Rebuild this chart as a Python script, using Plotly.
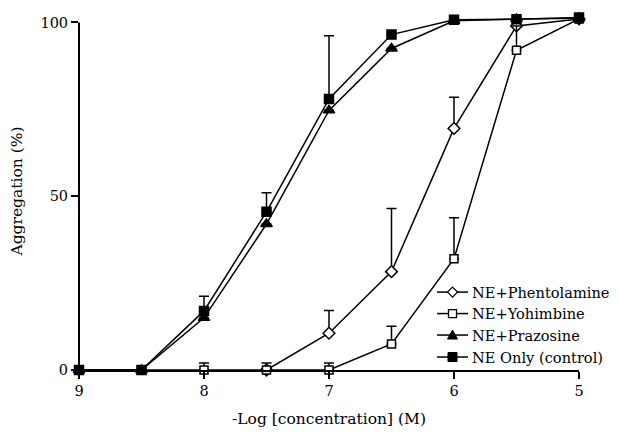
import plotly.graph_objects as go

# -Log [concentration] (M)
x_all = [9, 8.5, 8, 7.5, 7, 6.5, 6, 5.5, 5]
x_phen = [7.5, 7, 6.5, 6, 5.5, 5]

phen_y = [0, 10.6, 28.3, 69.5, 99, 101]
phen_err = [0, 6.5, 18.2, 9.0, 0, 0]

yoh_y = [0, 0, 0, 0, 0, 7.5, 32, 92, 101]
yoh_err = [0, 0, 2, 2, 2, 5.1, 11.8, 7, 0]

praz_y = [0, 0, 15, 42, 74.7, 92.5, 100.5, 101, 101.2]
praz_err = [0, 0, 0, 0, 0, 0, 0, 0, 0]

ctrl_y = [0, 0, 17, 45.5, 78, 96.5, 100.8, 100.9, 101.4]
ctrl_err = [0, 0, 4.2, 5.5, 18.2, 0, 0, 0, 0]

series_names = ["NE+Phentolamine", "NE+Yohimbine", "NE+Prazosine", "NE Only (control)"]

x_ticks = [9, 8, 7, 6, 5]
y_ticks = [0, 50, 100]

FONT = "DejaVu Serif"
TICK_SIZE = 14.5
TITLE_SIZE = 15.5
LEG_SIZE = 14.6

OFF = 8
W, H = 620 - OFF, 435 - OFF
PL, PR = 79 - OFF, 579 - OFF
PB = 370 - OFF
PX_PER_UNIT = 3.48
Y_MAX = 103
PT = PB - PX_PER_UNIT * Y_MAX

def px(xp):
    return (xp - OFF - PL) / (PR - PL)

def py(yp):
    return (PB - (yp - OFF)) / (PB - PT)

fig = go.Figure()

def add(name, xs, ys, errs, symbol, fill, size):
    fig.add_trace(go.Scatter(
        x=xs, y=ys, name=name, mode="lines+markers",
        line=dict(color="black", width=1.5),
        marker=dict(symbol=symbol, size=size, color=fill,
                    line=dict(color="black", width=1.5)),
        error_y=dict(type="data", array=errs, arrayminus=[0] * len(errs),
                     symmetric=False, color="black", thickness=1.5, width=5),
        cliponaxis=False, showlegend=False,
    ))

add(series_names[0], x_phen, phen_y, phen_err, "diamond", "white", 9)
add(series_names[1], x_all, yoh_y, yoh_err, "square", "white", 8)
add(series_names[2], x_all, praz_y, praz_err, "triangle-up", "black", 10)
add(series_names[3], x_all, ctrl_y, ctrl_err, "square", "black", 9)

shapes = []
shapes.append(dict(type="line", xref="paper", x0=0, x1=0, yref="y", y0=0, y1=100,
                   line=dict(color="black", width=2), layer="above"))

row_y = [292, 313.5, 335, 357]
line_x0, line_x1, sym_x, text_x = 437, 468, 452.5, 470
annotations = []
for i, name in enumerate(series_names):
    ry = row_y[i]
    shapes.append(dict(type="line", xref="paper", yref="paper",
                       x0=px(line_x0), x1=px(line_x1), y0=py(ry), y1=py(ry),
                       line=dict(color="black", width=1.5), layer="above"))
    if i == 0:
        d = 5
        path = "M {} {} L {} {} L {} {} L {} {} Z".format(
            px(sym_x - d), py(ry), px(sym_x), py(ry - d),
            px(sym_x + d), py(ry), px(sym_x), py(ry + d))
        shapes.append(dict(type="path", xref="paper", yref="paper", path=path,
                           fillcolor="white", line=dict(color="black", width=1.3),
                           layer="above"))
    elif i == 1:
        d = 4
        shapes.append(dict(type="rect", xref="paper", yref="paper",
                           x0=px(sym_x - d), x1=px(sym_x + d),
                           y0=py(ry + d), y1=py(ry - d),
                           fillcolor="white", line=dict(color="black", width=1.3),
                           layer="above"))
    elif i == 2:
        d = 5
        path = "M {} {} L {} {} L {} {} Z".format(
            px(sym_x - d), py(ry + 4), px(sym_x + d), py(ry + 4),
            px(sym_x), py(ry - 5))
        shapes.append(dict(type="path", xref="paper", yref="paper", path=path,
                           fillcolor="black", line=dict(color="black", width=1),
                           layer="above"))
    else:
        d = 4.5
        shapes.append(dict(type="rect", xref="paper", yref="paper",
                           x0=px(sym_x - d), x1=px(sym_x + d),
                           y0=py(ry + d), y1=py(ry - d),
                           fillcolor="black", line=dict(color="black", width=1),
                           layer="above"))
    annotations.append(dict(text=name, xref="paper", yref="paper",
                            x=px(text_x), y=py(ry), xanchor="left", yanchor="middle",
                            showarrow=False, font=dict(family=FONT, size=LEG_SIZE, color="black")))

fig.update_layout(
    width=W, height=H,
    margin=dict(l=PL, r=W - PR, t=PT, b=H - PB, pad=0, autoexpand=False),
    paper_bgcolor="white", plot_bgcolor="white",
    font=dict(family=FONT, size=TITLE_SIZE, color="black"),
    showlegend=False,
    shapes=shapes,
    annotations=annotations,
    xaxis=dict(range=[9, 5], tickvals=x_ticks, ticktext=[str(v) for v in x_ticks],
               showgrid=False, zeroline=False, showline=True, linecolor="black",
               linewidth=2, ticks="outside", ticklen=7, tickwidth=2,
               tickcolor="black", tickfont=dict(family=FONT, size=TICK_SIZE),
               automargin=False,
               title=dict(text="-Log [concentration] (M)", standoff=15,
                          font=dict(family=FONT, size=TITLE_SIZE))),
    yaxis=dict(range=[0, Y_MAX], tickvals=y_ticks, ticktext=[str(v) for v in y_ticks],
               showgrid=False, zeroline=False, showline=False,
               ticks="outside", ticklen=7, tickwidth=2,
               tickcolor="black", tickfont=dict(family=FONT, size=TICK_SIZE),
               automargin=False,
               title=dict(text="Aggregation (%)", standoff=14,
                          font=dict(family=FONT, size=TITLE_SIZE))),
)

fig.write_html("out.html")
